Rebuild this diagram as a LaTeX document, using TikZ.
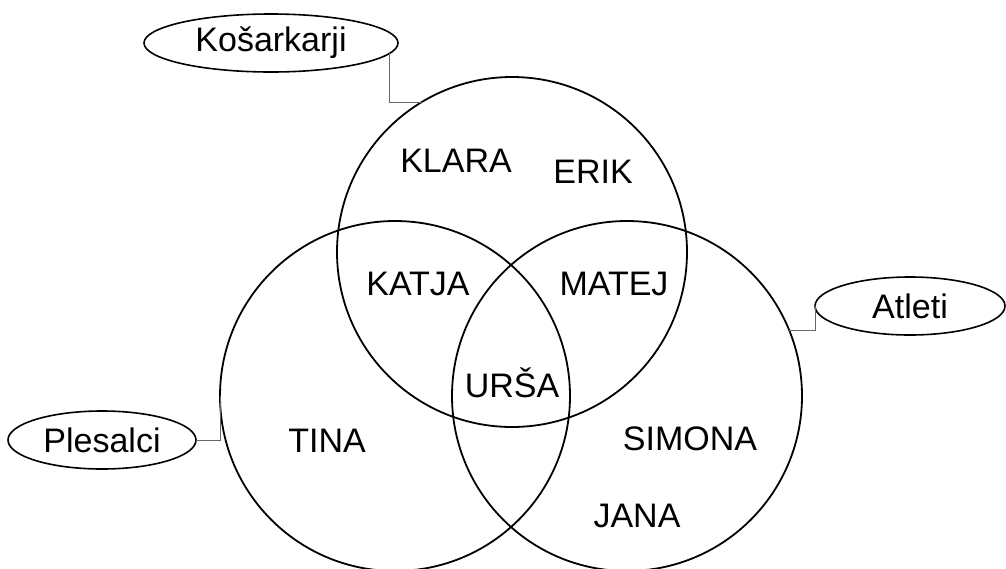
\documentclass[tikz,border=0pt]{standalone}
\usepackage{fontspec}
\setmainfont{Liberation Sans}
\usetikzlibrary{shapes.geometric}
\begin{document}
\begin{tikzpicture}[x=1pt,y=-1pt,
  setc/.style={draw, circle, line width=1.8pt, minimum size=350pt, inner sep=0pt, outer sep=0pt},
  tag/.style={draw, ellipse, line width=1.6pt, inner sep=0pt, outer sep=0pt, font=\fontsize{34}{40}\selectfont},
  who/.style={anchor=base, inner sep=0pt, font=\fontsize{34}{40}\selectfont},
  conn/.style={draw=black!60, line width=1pt}]
\useasboundingbox (0,0) rectangle (1006,568);
\node[setc] (T) at (512,252) {};
\node[setc] (L) at (395,396) {};
\node[setc] (R) at (627,396) {};
\node[tag, minimum width=254pt, minimum height=58pt] (ks) at (271,43) {Košarkarji};
\node[tag, minimum width=190pt, minimum height=58pt] (at) at (910,306) {Atleti};
\node[tag, minimum width=188pt, minimum height=58pt] (pl) at (102,440) {Plesalci};
\node[who] (klara) at (456,172) {KLARA};
\node[who] (erik) at (593,183) {ERIK};
\node[who] (katja) at (418,295) {KATJA};
\node[who] (matej) at (614,295) {MATEJ};
\node[who] (ursa) at (512,397) {URŠA};
\node[who] (tina) at (327,452) {TINA};
\node[who] (simona) at (690,450) {SIMONA};
\node[who] (jana) at (637,527) {JANA};
\draw[conn] (ks.-5) |- (T.121.8);
\draw[conn] (at.west) |- (R.22.2);
\draw[conn] (pl.east) -| (L.west);
\end{tikzpicture}
\end{document}
